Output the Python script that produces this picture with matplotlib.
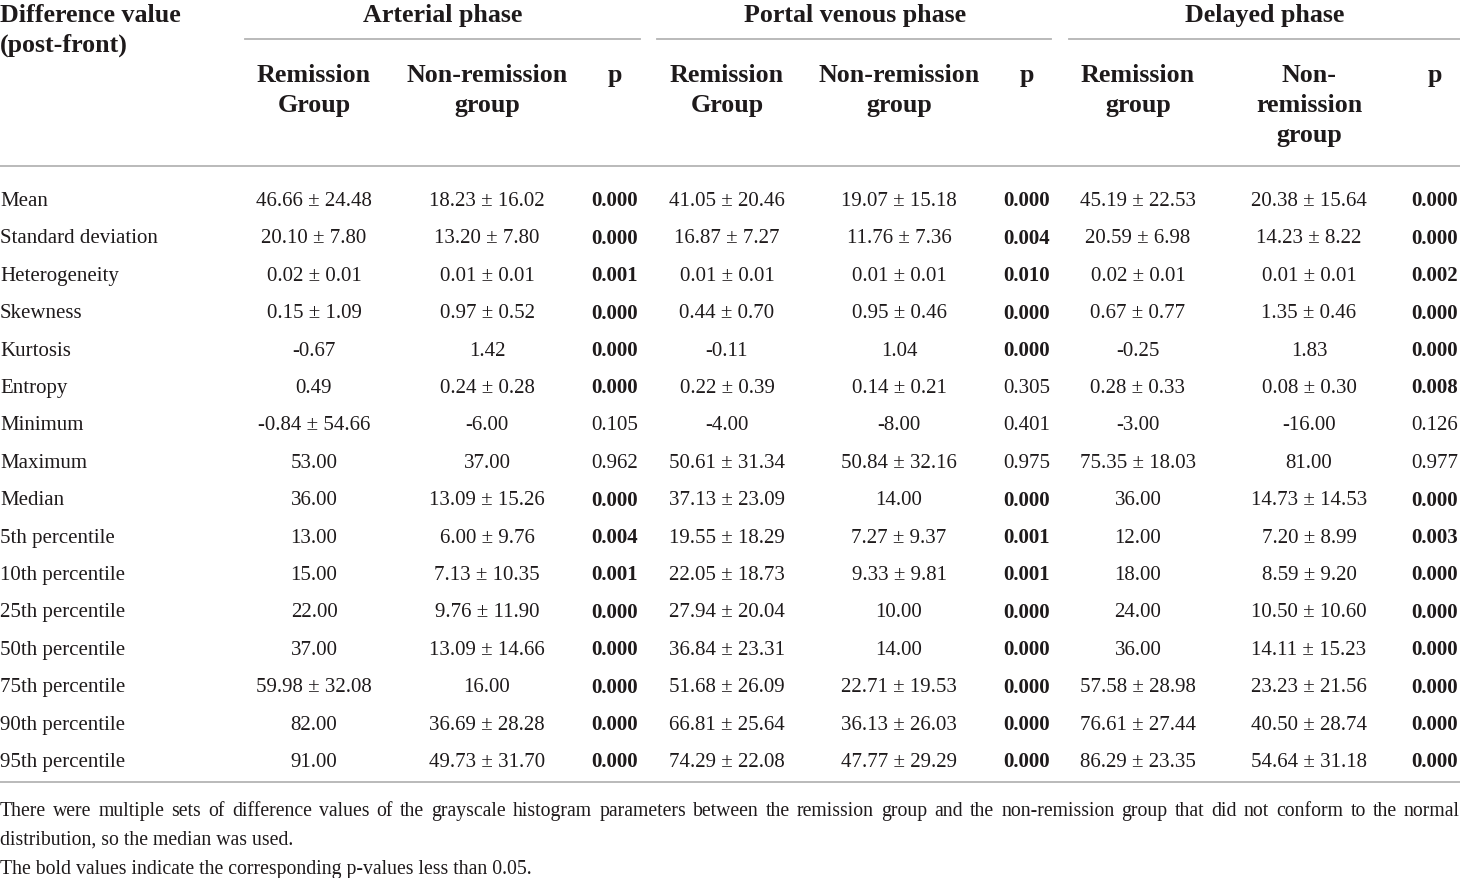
import matplotlib
matplotlib.use("Agg")
import matplotlib.pyplot as plt

plt.rcParams['font.family'] = ['Liberation Serif', 'DejaVu Serif']

# --- table data ---
row_labels = ["Mean", "Standard deviation", "Heterogeneity", "Skewness", "Kurtosis",
              "Entropy", "Minimum", "Maximum", "Median", "5th percentile",
              "10th percentile", "25th percentile", "50th percentile",
              "75th percentile", "90th percentile", "95th percentile"]

art_rem = ["46.66 ± 24.48", "20.10 ± 7.80", "0.02 ± 0.01", "0.15 ± 1.09", "-0.67",
           "0.49", "-0.84 ± 54.66", "53.00", "36.00", "13.00", "15.00", "22.00",
           "37.00", "59.98 ± 32.08", "82.00", "91.00"]
art_non = ["18.23 ± 16.02", "13.20 ± 7.80", "0.01 ± 0.01", "0.97 ± 0.52", "1.42",
           "0.24 ± 0.28", "-6.00", "37.00", "13.09 ± 15.26", "6.00 ± 9.76",
           "7.13 ± 10.35", "9.76 ± 11.90", "13.09 ± 14.66", "16.00",
           "36.69 ± 28.28", "49.73 ± 31.70"]
art_p = ["0.000", "0.000", "0.001", "0.000", "0.000", "0.000", "0.105", "0.962",
         "0.000", "0.004", "0.001", "0.000", "0.000", "0.000", "0.000", "0.000"]

por_rem = ["41.05 ± 20.46", "16.87 ± 7.27", "0.01 ± 0.01", "0.44 ± 0.70", "-0.11",
           "0.22 ± 0.39", "-4.00", "50.61 ± 31.34", "37.13 ± 23.09", "19.55 ± 18.29",
           "22.05 ± 18.73", "27.94 ± 20.04", "36.84 ± 23.31", "51.68 ± 26.09",
           "66.81 ± 25.64", "74.29 ± 22.08"]
por_non = ["19.07 ± 15.18", "11.76 ± 7.36", "0.01 ± 0.01", "0.95 ± 0.46", "1.04",
           "0.14 ± 0.21", "-8.00", "50.84 ± 32.16", "14.00", "7.27 ± 9.37",
           "9.33 ± 9.81", "10.00", "14.00", "22.71 ± 19.53", "36.13 ± 26.03",
           "47.77 ± 29.29"]
por_p = ["0.000", "0.004", "0.010", "0.000", "0.000", "0.305", "0.401", "0.975",
         "0.000", "0.001", "0.001", "0.000", "0.000", "0.000", "0.000", "0.000"]

del_rem = ["45.19 ± 22.53", "20.59 ± 6.98", "0.02 ± 0.01", "0.67 ± 0.77", "-0.25",
           "0.28 ± 0.33", "-3.00", "75.35 ± 18.03", "36.00", "12.00", "18.00",
           "24.00", "36.00", "57.58 ± 28.98", "76.61 ± 27.44", "86.29 ± 23.35"]
del_non = ["20.38 ± 15.64", "14.23 ± 8.22", "0.01 ± 0.01", "1.35 ± 0.46", "1.83",
           "0.08 ± 0.30", "-16.00", "81.00", "14.73 ± 14.53", "7.20 ± 8.99",
           "8.59 ± 9.20", "10.50 ± 10.60", "14.11 ± 15.23", "23.23 ± 21.56",
           "40.50 ± 28.74", "54.64 ± 31.18"]
del_p = ["0.000", "0.000", "0.002", "0.000", "0.000", "0.008", "0.126", "0.977",
         "0.000", "0.003", "0.000", "0.000", "0.000", "0.000", "0.000", "0.000"]

phase_titles = ["Arterial phase", "Portal venous phase", "Delayed phase"]
sub_headers = [["Remission\nGroup", "Non-remission\ngroup", "p"],
               ["Remission\nGroup", "Non-remission\ngroup", "p"],
               ["Remission\ngroup", "Non-\nremission\ngroup", "p"]]
footnotes = ["There were multiple sets of difference values of the grayscale histogram "
             "parameters between the remission group and the non-remission group that "
             "did not conform to the normal",
             "distribution, so the median was used.",
             "The bold values indicate the corresponding p-values less than 0.05."]

# --- layout (pixel coordinates) ---
W, H = 1460, 879
TXT = '#1e1a1b'
LINE = '#b4b4b4'
BODY = 15
HEAD = 18.7
FOOT = 14.2
col_x = [[314, 487, 615], [727, 899, 1027], [1138, 1309, 1435]]
phase_x = [443, 855, 1265]
phase_lines = [(245, 640), (657, 1051), (1069, 1460)]
row_y0, row_step = 199, 37.4

fig = plt.figure(figsize=(W / 100, H / 100), dpi=100)
ax = fig.add_axes([0, 0, 1, 1])
ax.set_xlim(0, W)
ax.set_ylim(H, 0)
ax.axis('off')


def put(x, y, s, size, weight='normal', ha='center'):
    # baseline-centred text so rows line up like the reference
    ax.text(x, y, s, fontsize=size, fontweight=weight, color=TXT,
            ha=ha, va='center_baseline')


# header
put(0, 13, "Difference value", HEAD, 'bold', 'left')
put(0, 43, "(post-front)", HEAD, 'bold', 'left')
for title, px, (x0, x1), subs, cx in zip(phase_titles, phase_x, phase_lines,
                                         sub_headers, col_x):
    put(px, 13, title, HEAD, 'bold')
    ax.plot([x0, x1], [40, 40], color=LINE, lw=1.3)
    for s, x in zip(subs, cx):
        for k, part in enumerate(s.split("\n")):
            put(x, 73 + k * 30, part, HEAD, 'bold')

ax.plot([0, W], [167, 167], color=LINE, lw=1.3)

# body
columns = [(art_rem, art_non, art_p), (por_rem, por_non, por_p),
           (del_rem, del_non, del_p)]
for i, label in enumerate(row_labels):
    y = row_y0 + i * row_step
    put(0, y, label, BODY, ha='left')
    for (rem, non, pv), cx in zip(columns, col_x):
        put(cx[0], y, rem[i], BODY)
        put(cx[1], y, non[i], BODY)
        put(cx[2], y, pv[i], BODY, 'bold' if float(pv[i]) < 0.05 else 'normal')

ax.plot([0, W], [783, 783], color=LINE, lw=1.3)

# footnotes (first line justified to full width)
renderer = fig.canvas.get_renderer()
words = footnotes[0].split(" ")
widths = []
for w in words:
    t = ax.text(0, 0, w, fontsize=FOOT)
    widths.append(t.get_window_extent(renderer).width)
    t.remove()
gap = (W - sum(widths)) / (len(words) - 1)
x = 0
for w, wd in zip(words, widths):
    put(x, 809, w, FOOT, ha='left')
    x += wd + gap
put(0, 838, footnotes[1], FOOT, ha='left')
put(0, 867, footnotes[2], FOOT, ha='left')

fig.savefig("out.png", dpi=100, facecolor='white')
